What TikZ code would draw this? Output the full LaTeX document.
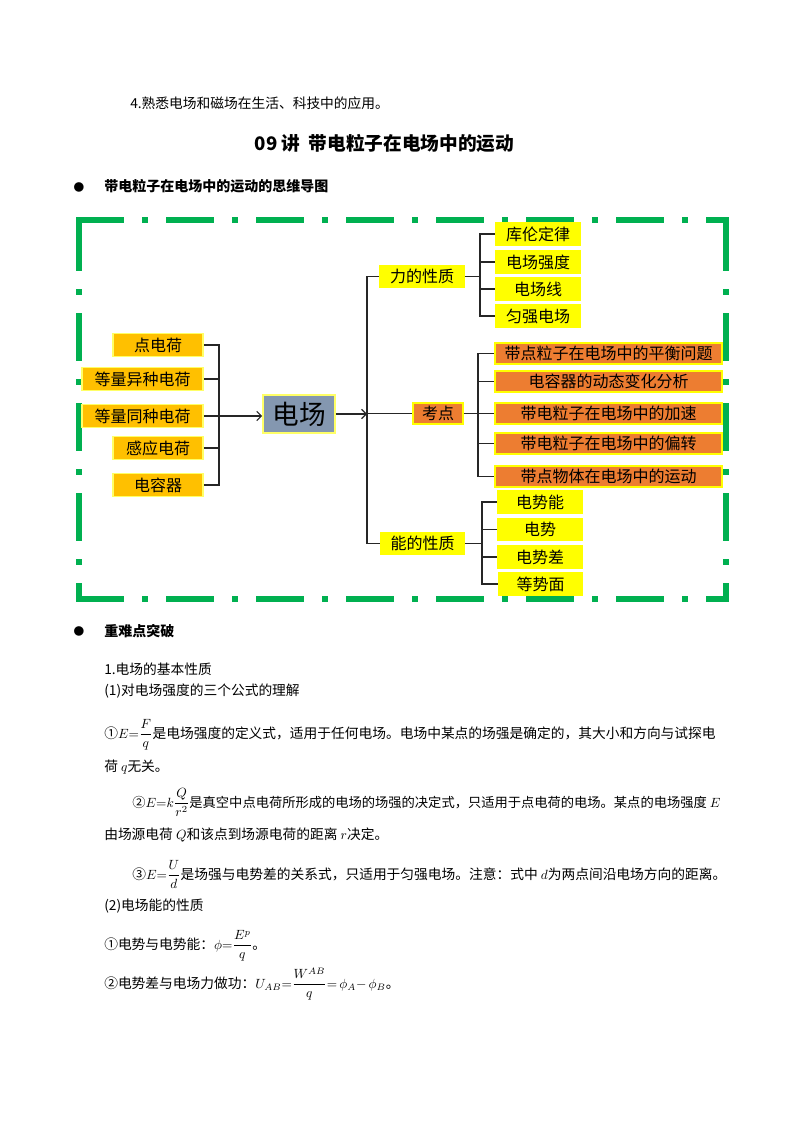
\documentclass[tikz,border=0pt]{standalone}
\usepackage{fontspec}
\setmainfont{Noto Sans CJK SC}
\usepackage{amsmath}
\usetikzlibrary{arrows.meta, positioning}
\definecolor{framegreen}{RGB}{0,176,80}
\definecolor{srcgold}{RGB}{255,192,0}
\definecolor{hotorange}{RGB}{237,125,49}
\definecolor{propyellow}{RGB}{255,255,0}
\definecolor{fieldgray}{RGB}{132,151,176}
\definecolor{edgeyellow}{RGB}{255,255,102}
\definecolor{linkgray}{RGB}{38,38,38}

\begin{document}
\begin{tikzpicture}[
    x=0.75pt, y=-0.75pt,
    box/.style={rectangle, draw=edgeyellow, line width=1.2pt, inner sep=0pt,
                minimum height=16.5pt, align=center, font=\fontsize{12}{12}\selectfont},
    srcbox/.style={box, fill=srcgold, minimum height=17.25pt},
    propbox/.style={box, fill=propyellow, draw=propyellow, minimum width=63pt},
    hotbox/.style={box, fill=hotorange, draw=propyellow, minimum height=15.75pt},
    fieldbox/.style={box, fill=fieldgray, minimum width=54pt, minimum height=28.5pt,
                     font=\fontsize{20}{20}\selectfont},
    conn/.style={draw=linkgray, line width=0.9pt},
    arr/.style={conn, -{Straight Barb[length=3.5pt, width=7pt]}},
    frameline/.style={draw=framegreen, line width=4.2pt,
                      dash pattern=on 36pt off 13.5pt on 4.5pt off 13.5pt},
    txt/.style={anchor=base west, inner sep=0pt, font=\fontsize{10.3}{12}\selectfont},
    head/.style={txt, font=\fontsize{10.5}{12}\selectfont\bfseries},
    bullet/.style={inner sep=0pt, font=\fontsize{8}{8}\selectfont},
]
\fill[white] (0,0) rectangle (794,1123);
\useasboundingbox (0,0) rectangle (794,1123);

% Page text above the map
\node[txt] (goal) at (130,109) {4.熟悉电场和磁场在生活、科技中的应用。};
\node[txt, anchor=base, font=\fontsize{14}{16}\selectfont\bfseries] (title) at (384.5,151)
    {09 讲~~带电粒子在电场中的运动};
\node[bullet] (dotmap) at (79,187) {●};
\node[head] (maphead) at (104,192) {带电粒子在电场中的运动的思维导图};

% Frame
\draw[frameline] (76,220) -- (729,220);
\draw[frameline] (76,599) -- (729,599);
\draw[frameline] (79,223) -- (79,601);
\draw[frameline] (726,223) -- (726,601);

% Sources
\node[srcbox, minimum width=67.5pt] (point) at (158,345) {点电荷};
\node[srcbox, minimum width=90.75pt] (unlike) at (142.5,379) {等量异种电荷};
\node[srcbox, minimum width=90.75pt] (like) at (142.5,416) {等量同种电荷};
\node[srcbox, minimum width=67.5pt] (induced) at (158,448) {感应电荷};
\node[srcbox, minimum width=67.5pt] (capac) at (158,485) {电容器};

% Field
\node[fieldbox] (field) at (299,414) {电场};

% Branches
\node[propbox] (force) at (422,276.5) {力的性质};
\node[hotbox, minimum width=37.5pt] (exam) at (438,413.5) {考点};
\node[propbox] (energy) at (422.5,543.5) {能的性质};

% Force branch
\node[propbox] (coulomb) at (538,234) {库伦定律};
\node[propbox] (strength) at (538,262) {电场强度};
\node[propbox] (fline) at (538,289) {电场线};
\node[propbox] (uniform) at (538,316) {匀强电场};

% Exam branch
\node[hotbox, minimum width=170.25pt] (balance) at (608.5,353.5) {带点粒子在电场中的平衡问题};
\node[hotbox, minimum width=170.25pt] (capdyn) at (608.5,381.5) {电容器的动态变化分析};
\node[hotbox, minimum width=170.25pt] (accel) at (608.5,413.5) {带电粒子在电场中的加速};
\node[hotbox, minimum width=170.25pt] (deflect) at (608.5,443.5) {带电粒子在电场中的偏转};
\node[hotbox, minimum width=170.25pt] (body) at (608.5,476.5) {带点物体在电场中的运动};

% Energy branch
\node[propbox] (epot) at (540,502) {电势能};
\node[propbox] (pot) at (540,529.5) {电势};
\node[propbox] (potdiff) at (540,557) {电势差};
\node[propbox] (equip) at (540.5,584) {等势面};

% Connectors
\coordinate (srcjoin) at (219,416);
\foreach \n in {point,unlike,induced,capac}
    \draw[conn] (\n.east) -| (srcjoin);
\draw[arr] (like.east) -- (like.east -| field.west);

\coordinate (trunk) at (367,414);
\draw[arr] (field.east) -- (trunk);
\foreach \n in {force,exam,energy}
    \draw[conn] (trunk) |- (\n.west);

\coordinate (forcejoin) at (480,276.5);
\draw[conn] (force.east) -- (forcejoin);
\foreach \n in {coulomb,strength,fline,uniform}
    \draw[conn] (forcejoin) |- (\n.west);

\coordinate (examjoin) at (478,413.5);
\draw[conn] (exam.east) -- (examjoin);
\foreach \n in {balance,capdyn,accel,deflect,body}
    \draw[conn] (examjoin) |- (\n.west);

\coordinate (energyjoin) at (482,543.5);
\draw[conn] (energy.east) -- (energyjoin);
\foreach \n in {epot,pot,potdiff,equip}
    \draw[conn] (energyjoin) |- (\n.west);

% Key points text
\node[bullet] (dotkey) at (79,631) {●};
\node[head] (keyhead) at (104,636) {重难点突破};
\node[txt] (sec1) at (104,674) {1.电场的基本性质};
\node[txt] (sub1) at (104,695) {(1)对电场强度的三个公式的理解};
\node[txt] (eqone) at (104,738)
    {①$E{=}\dfrac{F}{q}$是电场强度的定义式，适用于任何电场。电场中某点的场强是确定的，其大小和方向与试探电};
\node[txt] (eqoneb) at (104,771) {荷 $q$无关。};
\node[txt, font=\fontsize{9.95}{12}\selectfont] (eqtwo) at (132,807)
    {②$E{=}k\dfrac{Q}{r^2}$是真空中点电荷所形成的电场的场强的决定式，只适用于点电荷的电场。某点的电场强度 $E$};
\node[txt] (eqtwob) at (104,839) {由场源电荷 $Q$和该点到场源电荷的距离 $r$决定。};
\node[txt] (eqthree) at (132,879)
    {③$E{=}\dfrac{U}{d}$是场强与电势差的关系式，只适用于匀强电场。注意：式中 $d$为两点间沿电场方向的距离。};
\node[txt] (sub2) at (104,910) {(2)电场能的性质};
\node[txt] (potone) at (104,949) {①电势与电势能：$\phi{=}\dfrac{E^{p}}{q}$。};
\node[txt] (pottwo) at (104,988) {②电势差与电场力做功：$U_{AB}{=}\dfrac{W^{AB}}{q}{=}\,\phi_A{-}\,\phi_B$。};

\end{tikzpicture}
\end{document}
